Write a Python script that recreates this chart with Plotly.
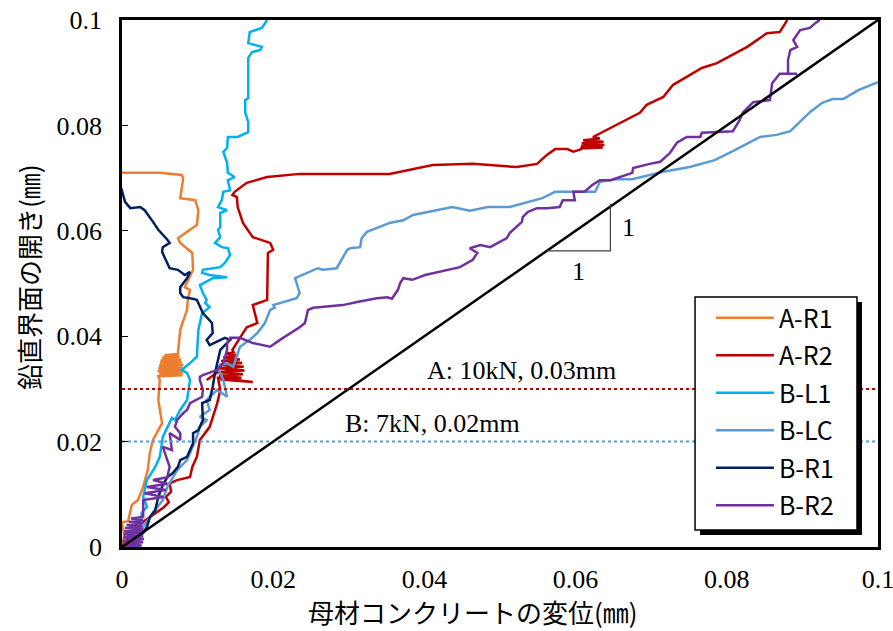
import numpy as np
import plotly.graph_objects as go

# ---- data (in micrometres = 0.001 mm) ----
names = ["A-R1", "A-R2", "B-L1", "B-LC", "B-R1", "B-R2"]
colors = ["#ED7D31", "#C00000", "#00B0F0", "#5B9BD5", "#002060", "#7030A0"]

ar1_x = [0, 0.3, 0, 0.8, 1.3, 2.1, 2.8, 3.4, 3.7, 4.1, 5.3, 4.8, 5.0,
         4.8, 8.0, 4.9, 8.1, 4.7, 8.2, 4.8, 8.0, 4.9, 8.1, 5.0, 7.9, 5.1, 7.8,
         5.3, 7.6, 5.6, 7.4, 7.4,
         7.7, 8.6, 8.7, 9.0, 8.3, 9.4, 9.3, 7.7, 7.4, 9.9, 10.1, 9.7, 7.7,
         8.1, 7.9, 5.0, 0]
ar1_y = [0, 2.3, 4.7, 4.9, 8.0, 8.9, 11.4, 14.6, 18.0, 20.3, 23.5, 27.9, 31.7,
         32.4, 32.6, 32.9, 33.1, 33.4, 33.6, 33.9, 34.1, 34.4, 34.6, 34.9, 35.1, 35.4, 35.6,
         35.9, 36.1, 36.4, 36.6, 36.8,
         41.2, 45.0, 46.9, 48.8, 49.3, 52.6, 55.8, 57.7, 58.6, 61.1, 63.9, 65.8, 66.2,
         70.0, 70.6, 71.0, 71.0]

ar2_x = [0, 1.5, 3.0, 4.5, 5.5, 6.2, 5.8, 6.5, 6.3, 7.3, 9.0, 9.3, 9.9, 10.3,
         11.6, 12.6, 13.0, 12.7,
         17.3, 13.0, 15.8, 12.8, 16.0, 12.7, 11.2, 12.7, 16.2, 12.8, 16.1, 12.9, 15.9,
         13.1, 15.6, 13.4, 15.2, 13.8, 14.8,
         14.6, 16.0, 16.5, 17.9, 17.3, 19.2, 19.3, 20.0, 19.6, 17.3, 16.0, 15.3,
         15.2, 14.6, 14.9, 16.5, 19.2, 23.5, 35.4, 41.1, 46.4, 52.2, 54.9, 56.2,
         57.3, 58.9, 59.7, 60.8, 60.6, 63.6, 60.7, 63.8, 60.8, 63.7, 61.0, 63.2, 62.3, 68.5,
         69.4, 71.6, 72.9, 74.7, 76.7, 78.7, 82.7, 85.3, 87.0, 88.0]
ar2_y = [0, 3.0, 5.0, 6.5, 7.5, 8.5, 9.5, 10.5, 12.1, 12.7, 13.3, 15.2, 17.1, 20.3,
         22.8, 27.3, 29.8, 32.1,
         31.3, 31.8, 32.1, 32.5, 32.8, 33.2, 31.7, 33.2, 33.5, 33.9, 34.2, 34.6, 34.9,
         35.3, 35.6, 36.0, 36.3, 36.7, 36.9,
         37.4, 40.6, 41.7, 42.5, 45.9, 46.9, 55.8, 56.4, 57.7, 58.8, 61.5, 64.5,
         66.4, 66.8, 67.4, 69.1, 70.2, 70.8, 70.8, 72.5, 72.7, 72.1, 72.7, 74.4,
         75.5, 75.5, 75.0, 75.5, 75.6, 75.8, 76.1, 76.3, 76.6, 76.9, 77.2, 77.5, 77.8, 82.4,
         83.9, 85.4, 87.7, 89.2, 90.9, 91.8, 94.9, 97.5, 97.7, 100.0]

bl1_x = [0, 1.5, 2.0, 2.4, 2.6, 3.3, 2.8, 3.3, 4.4, 5.0, 5.4, 6.6, 7.0, 7.7,
         8.6, 9.0, 8.6, 7.9, 9.0, 9.9, 10.1, 10.6, 11.6, 11.0, 11.2, 10.7, 10.3,
         12.0, 13.9, 11.6, 10.6, 10.7, 13.0, 13.6, 14.3, 14.0, 13.2, 12.3, 13.0,
         12.7, 13.0, 13.0, 13.9, 12.7, 13.2, 13.4, 14.3, 14.0, 14.9, 14.0, 13.9,
         13.4, 13.9, 14.0, 15.3, 16.7, 16.7, 16.3, 16.3, 16.7, 16.7, 17.2, 18.3,
         18.5, 16.7, 16.9, 18.5, 19.2]
bl1_y = [0, 0, 1.3, 3.2, 6.5, 7.6, 9.5, 12.7, 15.2, 17.1, 20.9, 24.5, 24.1, 26.0,
         27.9, 31.7, 33.0, 33.6, 34.9, 36.1, 41.2, 44.4, 45.5, 46.3, 46.9, 48.2, 49.7,
         51.0, 51.2, 51.6, 52.0, 52.6, 53.1, 53.9, 55.4, 56.7, 56.9, 57.7, 58.8,
         60.2, 60.7, 63.4, 63.9, 64.5, 65.8, 67.4, 67.7, 69.6, 70.2, 71.0, 72.9,
         75.0, 75.7, 77.8, 77.8, 78.7, 80.6, 82.4, 84.8, 85.2, 92.8, 93.9, 94.3,
         94.9, 95.6, 97.7, 98.5, 100.0]

blc_x = [0, 2.0, 2.8, 4.1, 5.4, 6.0, 7.3, 8.6, 9.9, 10.3, 11.2, 10.3, 11.6, 11.2,
         12.6, 13.9, 13.4, 12.6, 13.9, 14.7, 15.6, 16.9, 17.9, 18.9, 19.6, 20.2,
         20.0, 23.1, 23.5, 23.1, 22.9, 25.9, 26.6, 28.4, 29.8, 30.2, 31.5, 31.7,
         32.4, 35.4, 37.2, 38.5, 43.7, 46.0, 48.4, 51.3, 55.6, 57.3, 62.6, 63.2,
         65.5, 67.5, 71.6, 75.1, 78.4, 80.8, 84.4, 86.6, 88.4, 91.0, 92.6, 94.0,
         95.4, 97.4, 100.0]
blc_y = [0, 0, 3.8, 6.5, 8.9, 11.4, 14.6, 16.5, 20.9, 22.8, 24.1, 24.7, 26.0, 27.9,
         29.8, 28.5, 31.7, 34.2, 34.9, 34.2, 38.0, 39.3, 40.6, 42.5, 45.0, 45.4,
         45.9, 47.2, 48.2, 50.1, 51.0, 52.9, 52.6, 52.9, 56.4, 56.7, 56.9, 58.6,
         59.8, 61.5, 62.0, 63.0, 64.5, 63.8, 64.5, 64.5, 66.2, 67.4, 67.4, 69.3,
         69.8, 69.8, 71.2, 72.1, 73.4, 75.1, 77.8, 78.2, 78.9, 82.5, 84.3, 85.0,
         85.0, 86.7, 88.2]

br1_x = [0, 0.4, 1.5, 2.8, 3.3, 3.7, 4.4, 4.8, 5.3, 6.0, 6.7, 7.4, 7.7, 8.6,
         9.0, 9.4, 9.4, 10.1, 10.7, 10.6, 11.6, 12.0, 12.3, 13.0, 14.3, 13.6, 11.6,
         11.2, 12.0, 11.9, 10.7, 9.9, 9.0, 8.1, 7.7, 7.7, 8.6, 9.0, 8.3, 7.4, 6.3,
         6.0, 5.3, 5.4, 6.3, 6.0, 4.8, 4.1, 3.0, 2.4, 1.1, 0.4, 0.1, -0.1]
br1_y = [0, 0, 1.3, 2.7, 3.8, 5.7, 7.0, 9.5, 11.4, 13.3, 14.0, 15.2, 16.5, 17.1,
         18.4, 19.7, 21.6, 22.2, 24.1, 27.3, 27.9, 30.4, 33.0, 37.4, 39.3, 39.7, 38.3,
         39.3, 40.6, 42.5, 44.4, 46.9, 47.2, 47.4, 48.2, 49.3, 51.0, 52.2, 51.6, 52.6, 52.9,
         53.9, 56.0, 56.9, 57.7, 58.3, 60.2, 61.7, 63.9, 64.5, 64.3, 65.5, 67.4, 68.1]

br2_x = [0, 2.6, 0.1, 2.8, 0.1, 2.9, 0.2, 2.8, 0.2, 2.9, 0.3, 2.8, 0.4, 2.7,
         0.6, 2.8, 0.9, 2.8, 1.2, 2.8,
         2.8, 5.5, 3.0, 5.8, 3.3, 6.0, 4.1, 6.2, 6.0, 6.3, 6.0, 5.7, 5.4, 6.6, 6.3, 7.7, 7.7, 7.0,
         7.3, 8.1, 8.6, 9.0, 9.9, 10.6, 10.7, 10.3, 10.3, 10.7, 12.6, 13.4, 13.9,
         13.9, 14.3, 15.6, 17.3, 19.6, 20.9, 22.6, 23.5, 24.2, 24.6, 25.3, 29.2,
         31.1, 33.7, 35.1, 35.7, 36.5, 36.8, 37.2, 38.4, 40.1, 43.1, 44.7, 46.4,
         47.0, 46.0, 47.4, 48.7, 50.9, 51.3, 52.9, 53.0, 53.7, 54.9, 56.2, 57.9,
         58.3, 59.9, 59.7, 61.2, 62.2, 63.2, 64.6, 67.5, 67.6, 69.8, 71.2, 72.5,
         73.4, 74.7, 76.5, 76.7, 78.4, 80.8, 81.7, 82.1, 83.5, 85.7, 86.0, 87.0,
         89.3, 88.1, 88.1, 88.4, 89.3, 88.8, 89.7, 91.0, 91.7, 92.3]
br2_y = [0, 0.3, 0.6, 0.9, 1.2, 1.5, 1.8, 2.1, 2.4, 2.7, 3.0, 3.3, 3.6, 3.9,
         4.2, 4.5, 4.8, 5.1, 5.4, 5.7,
         8.9, 9.5, 10.2, 10.8, 11.4, 12.0, 12.7, 13.3, 13.3, 15.2, 16.5, 17.8, 19.0, 18.4, 21.6, 20.3, 21.6, 22.8,
         24.1, 25.4, 26.0, 27.3, 27.9, 28.5, 29.8, 31.7, 32.3, 32.6, 33.6, 34.9, 37.4,
         38.7, 39.7, 39.7, 38.7, 38.0, 39.3, 40.8, 41.7, 42.5, 45.0, 45.4, 45.9,
         46.5, 47.2, 47.4, 47.1, 48.8, 50.1, 51.0, 50.7, 51.6, 52.6, 53.1, 54.5,
         55.8, 56.7, 57.3, 56.9, 58.6, 59.6, 61.7, 62.6, 63.6, 64.3, 64.3, 64.5,
         65.8, 65.8, 67.4, 67.4, 68.7, 69.6, 69.6, 71.0, 71.9, 72.7, 73.1, 74.8,
         76.7, 77.8, 77.8, 78.6, 78.7, 78.9, 81.0, 82.4, 84.4, 84.8, 88.0, 89.8,
         89.8, 89.8, 92.4, 94.3, 94.9, 96.2, 98.1, 98.5, 99.4, 100.0]

series_x = [ar1_x, ar2_x, bl1_x, blc_x, br1_x, br2_x]
series_y = [ar1_y, ar2_y, bl1_y, blc_y, br1_y, br2_y]

# reference lines (mm)
ref_diag = [0, 0.1]
thresh_A = 0.03
thresh_B = 0.02
thresh_labels = ["A: 10kN, 0.03mm", "B: 7kN, 0.02mm"]
slope_tri_x = [56.2, 64.6, 64.6]   # µm
slope_tri_y = [56.2, 56.2, 65.1]

xticks = [0, 0.02, 0.04, 0.06, 0.08, 0.1]
xticklabels = ["0", "0.02", "0.04", "0.06", "0.08", "0.1"]
x_title = "母材コンクリートの変位(㎜)"
y_title = "鉛直界面の開き(㎜)"

fig = go.Figure()
for n, c, xs, ys in zip(names, colors, series_x, series_y):
    fig.add_trace(go.Scatter(
        x=np.array(xs) / 1000.0, y=np.array(ys) / 1000.0, mode="lines", name=n,
        legendgroup=n, line=dict(color=c, width=2.5)))

# threshold dotted lines
fig.add_trace(go.Scatter(x=[0, 0.1], y=[thresh_A, thresh_A], mode="lines",
                         line=dict(color="#C00000", width=2, dash="dot"), showlegend=False))
fig.add_trace(go.Scatter(x=[0, 0.1], y=[thresh_B, thresh_B], mode="lines",
                         line=dict(color="#5B9BD5", width=2, dash="dot"), showlegend=False))
# 1:1 line
fig.add_trace(go.Scatter(x=ref_diag, y=ref_diag, mode="lines",
                         line=dict(color="black", width=2.5), showlegend=False))
# slope triangle
tx = np.array(slope_tri_x) / 1000.0
ty = np.array(slope_tri_y) / 1000.0
fig.add_trace(go.Scatter(x=list(tx), y=list(ty), mode="lines",
                         line=dict(color="#404040", width=1.2), showlegend=False))

serif = "Liberation Serif, Times New Roman, serif"
jp = "Noto Sans CJK JP, sans-serif"
FS = 26

fig.add_annotation(x=(tx[0] + tx[1]) / 2, y=ty[0], text="1", showarrow=False,
                   yshift=-21, font=dict(family=serif, size=FS, color="black"))
fig.add_annotation(x=tx[1], y=(ty[1] + ty[2]) / 2, text="1", showarrow=False,
                   xshift=18, font=dict(family=serif, size=FS, color="black"))
fig.add_annotation(x=0.0528, y=thresh_A, text=thresh_labels[0], showarrow=False,
                   xanchor="center", yanchor="bottom", yshift=2,
                   font=dict(family=serif, size=FS, color="black"))
fig.add_annotation(x=0.0529, y=thresh_B, text=thresh_labels[1], showarrow=False,
                   xanchor="right", yanchor="bottom", yshift=2,
                   font=dict(family=serif, size=FS, color="black"))

# axis titles
fig.add_annotation(xref="paper", yref="paper", x=0.4643, y=-0.1233, text=x_title,
                   showarrow=False, xanchor="center", yanchor="middle",
                   font=dict(family=jp, size=26, color="black"))
fig.add_annotation(xref="paper", yref="paper", x=-0.1243, y=0.5123, text=y_title,
                   showarrow=False, xanchor="center", yanchor="middle", textangle=-90,
                   font=dict(family=jp, size=26, color="black"))

# legend frame (box + drop shadow) drawn as shapes behind the legend entries
fig.add_shape(type="rect", xref="paper", yref="paper", x0=0.7646, x1=0.9788,
              y0=0.0228, y1=0.465, fillcolor="black", line=dict(width=0), layer="above")
fig.add_shape(type="rect", xref="paper", yref="paper", x0=0.758, x1=0.9722,
              y0=0.0323, y1=0.4744, fillcolor="white", line=dict(color="black", width=1.5),
              layer="above")

fig.update_layout(
    width=893, height=631,
    margin=dict(l=122, r=15, t=20, b=84, autoexpand=False),
    paper_bgcolor="white", plot_bgcolor="white",
    showlegend=True,
    legend=dict(x=0.779, y=0.478, xanchor="left", yanchor="top",
                bgcolor="rgba(0,0,0,0)", borderwidth=0,
                font=dict(family=jp, size=25, color="black"),
                tracegroupgap=2, itemwidth=58),
    xaxis=dict(range=[0, 0.1], tickvals=xticks, ticktext=xticklabels, automargin=False,
               showgrid=False, zeroline=False, showline=True, linecolor="black",
               linewidth=2.5, mirror=True, ticks="", ticklabelstandoff=7,
               ticklabeloverflow="allow",
               tickfont=dict(family=serif, size=FS, color="black")),
    yaxis=dict(range=[0, 0.1], tickvals=xticks, ticktext=xticklabels, automargin=False,
               showgrid=False, zeroline=False, showline=True, linecolor="black",
               linewidth=2.5, mirror=True, ticks="inside", ticklen=6, tickcolor="black",
               ticklabelstandoff=12, ticklabeloverflow="allow",
               tickfont=dict(family=serif, size=FS, color="black")),
)

fig.write_html("out.html", config={"displayModeBar": False},
               post_script="document.body.style.margin='0';document.body.style.overflow='hidden';")
